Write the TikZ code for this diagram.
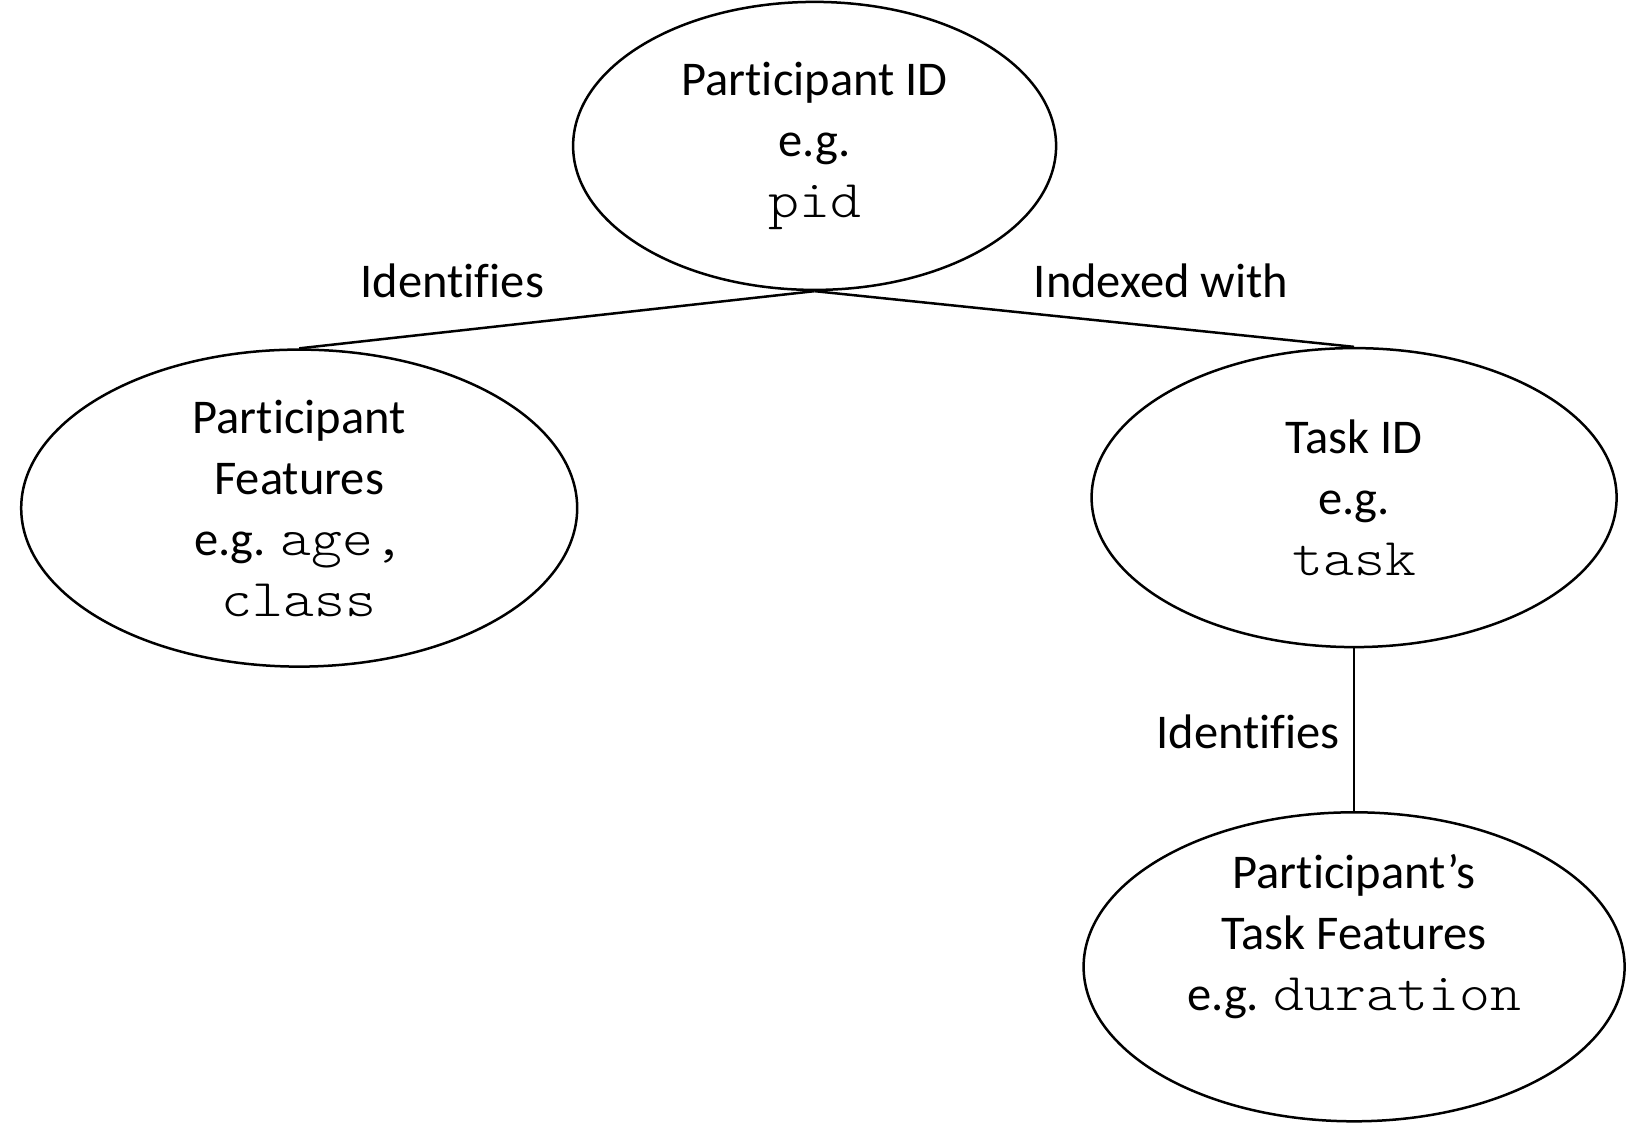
\documentclass[tikz,border=0pt]{standalone}
\usepackage{fontspec}
\setmainfont{Carlito}[Ligatures=NoCommon]
\setmonofont{Latin Modern Mono Light}[FakeStretch=1.11]
\usetikzlibrary{shapes.geometric}
\newcommand{\cd}[1]{{\ttfamily\fontsize{53}{61}\selectfont #1}}
\tikzset{
  ent/.style={draw, ellipse, line width=2.5pt, inner sep=0pt, align=center,
    font=\fontsize{48.5}{61}\selectfont},
  lbl/.style={inner sep=0pt, font=\fontsize{48.5}{61}\selectfont},
  conn/.style={line width=2.5pt}
}
\begin{document}
\begin{tikzpicture}[x=1pt,y=-1pt]
\useasboundingbox (0,0) rectangle (1646,1135);
\node[ent, minimum width=483pt, minimum height=288pt] (pid) at (814.6,145.9)
  {Participant ID\\e.g.\\\cd{pid}};
\node[ent, minimum width=556pt, minimum height=317pt] (pf) at (299.2,508.1)
  {Participant\\Features\\e.g. \cd{age,}\\\cd{class}};
\node[ent, minimum width=525pt, minimum height=299pt] (tid) at (1354.1,497.6)
  {Task ID\\e.g.\\\cd{task}};
\node[ent, minimum width=541pt, minimum height=309pt] (tf) at (1354.1,966.8) {};
\node[lbl, align=center] (tftext) at (1354.1,936.3)
  {Participant’s\\Task Features\\e.g. \cd{duration}};
\draw[conn] (pid.south) -- (pf.north);
\draw[conn] (pid.south) -- (tid.north);
\draw[conn] (tid.south) -- (tf.north);
\node[lbl] (l1) at (452.4,281.3) {Identifies};
\node[lbl] (l2) at (1161,281.3) {Indexed with};
\node[lbl] (l3) at (1248.1,731.6) {Identifies};
\end{tikzpicture}
\end{document}
